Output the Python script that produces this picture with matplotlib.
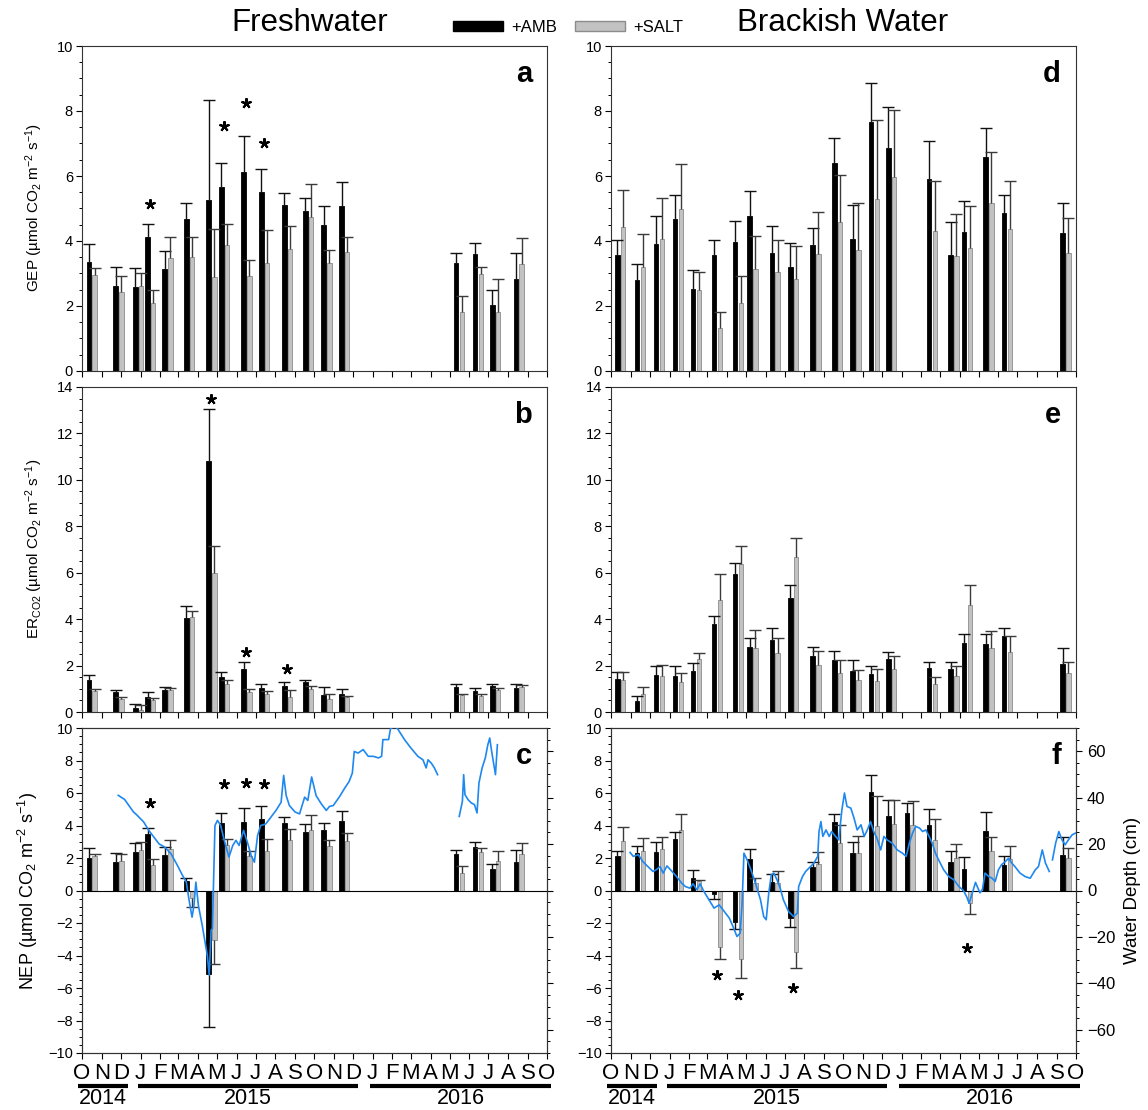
import numpy as np
import matplotlib
matplotlib.use("Agg")
import matplotlib.pyplot as plt
import matplotlib.dates as mdates
from matplotlib.ticker import MultipleLocator, FuncFormatter, NullFormatter
from matplotlib.patches import Patch

plt.rcParams['font.family'] = ['Liberation Sans', 'DejaVu Sans']
plt.rcParams['mathtext.fontset'] = 'custom'
plt.rcParams['mathtext.rm'] = 'Liberation Sans'
plt.rcParams['mathtext.it'] = 'Liberation Sans:italic'
plt.rcParams['mathtext.bf'] = 'Liberation Sans:bold'

# ---------------- data: freshwater ----------------
fresh_dates = ['2014-10-12', '2014-11-23', '2014-12-24', '2015-01-12', '2015-02-08', '2015-03-14',
               '2015-04-18', '2015-05-08', '2015-06-12', '2015-07-10', '2015-08-15', '2015-09-17',
               '2015-10-16', '2015-11-13', '2016-05-11', '2016-06-10', '2016-07-07', '2016-08-13']

fresh_gep_amb = [3.34, 2.61, 2.58, 4.13, 3.15, 4.68, 5.26, 5.66, 6.12, 5.50, 5.11, 4.93, 4.48, 5.08, 3.31, 3.59, 2.02, 2.83]
fresh_gep_amb_se = [0.56, 0.59, 0.60, 0.39, 0.55, 0.49, 3.07, 0.74, 1.12, 0.73, 0.38, 0.39, 0.60, 0.72, 0.33, 0.36, 0.46, 0.80]
fresh_gep_salt = [2.95, 2.43, 2.61, 2.08, 3.49, 3.52, 2.90, 3.89, 2.92, 3.31, 3.75, 4.73, 3.33, 3.66, 1.83, 2.99, 1.81, 3.30]
fresh_gep_salt_se = [0.23, 0.48, 0.40, 0.42, 0.64, 0.61, 1.47, 0.64, 0.49, 1.02, 0.72, 1.02, 0.38, 0.47, 0.49, 0.22, 1.03, 0.80]

fresh_er_amb = [1.37, 0.85, 0.19, 0.65, 0.94, 4.07, 10.81, 1.50, 1.84, 1.05, 1.14, 1.29, 0.75, 0.79, 1.08, 0.91, 1.11, 1.05]
fresh_er_amb_se = [0.21, 0.11, 0.14, 0.21, 0.12, 0.51, 2.25, 0.24, 0.30, 0.14, 0.15, 0.09, 0.31, 0.22, 0.14, 0.13, 0.11, 0.17]
fresh_er_salt = [0.89, 0.58, 0.10, 0.50, 0.96, 4.10, 6.00, 1.22, 0.86, 0.79, 0.65, 1.01, 0.58, 0.65, 0.75, 0.68, 0.94, 1.08]
fresh_er_salt_se = [0.09, 0.07, 0.19, 0.12, 0.09, 0.26, 1.17, 0.18, 0.15, 0.10, 0.31, 0.11, 0.21, 0.03, 0.04, 0.11, 0.10, 0.10]

fresh_nep_amb = [1.98, 1.76, 2.36, 3.46, 2.21, 0.59, -5.11, 4.17, 4.23, 4.42, 4.18, 3.60, 3.70, 4.29, 2.23, 2.68, 1.35, 1.76]
fresh_nep_amb_se = [0.62, 0.57, 0.59, 0.39, 0.47, 0.19, 3.27, 0.62, 0.86, 0.75, 0.37, 0.48, 0.48, 0.58, 0.26, 0.31, 0.29, 0.73]
fresh_nep_salt = [2.13, 1.82, 2.51, 1.60, 2.55, -0.49, -3.07, 2.78, 2.15, 2.41, 3.10, 3.74, 2.75, 3.07, 1.10, 2.35, 1.84, 2.25]
fresh_nep_salt_se = [0.10, 0.45, 0.47, 0.36, 0.56, 0.50, 1.45, 0.39, 0.27, 0.78, 0.71, 0.93, 0.38, 0.45, 0.43, 0.25, 0.61, 0.69]

fresh_gep_stars = {3: 5.13, 7: 7.55, 8: 8.25, 9: 7.02}
fresh_er_stars = {6: 13.5, 8: 2.59, 10: 1.87}
fresh_nep_stars = {3: 5.4, 7: 6.58, 8: 6.6, 9: 6.54}

fresh_depth_dates = ['2014-11-27', '2014-12-07', '2014-12-21', '2014-12-26', '2015-01-06', '2015-01-14',
                     '2015-01-22', '2015-01-30', '2015-02-08', '2015-02-18', '2015-02-28', '2015-03-08',
                     '2015-03-14', '2015-03-18', '2015-03-23', '2015-03-26', '2015-03-29', '2015-04-02',
                     '2015-04-08', '2015-04-16', '2015-04-19', '2015-04-22', '2015-04-24', '2015-04-28',
                     '2015-05-02', '2015-05-07', '2015-05-12', '2015-05-20', '2015-05-26', '2015-05-31',
                     '2015-06-05', '2015-06-12', '2015-06-18', '2015-06-24', '2015-06-29', '2015-07-04',
                     '2015-07-09', '2015-07-17', '2015-07-25', '2015-08-02', '2015-08-10', '2015-08-14',
                     '2015-08-18', '2015-08-23', '2015-09-01', '2015-09-08', '2015-09-16', '2015-09-21',
                     '2015-09-27', '2015-10-04', '2015-10-12', '2015-10-20', '2015-10-25', '2015-10-31',
                     '2015-11-10', '2015-11-18', '2015-11-25', '2015-11-30', '2015-12-03', '2015-12-09',
                     '2015-12-17', '2015-12-25', '2016-01-02', '2016-01-10', '2016-01-15', '2016-01-17',
                     '2016-01-26', '2016-01-29', '2016-02-05', '2016-02-10', '2016-02-20', '2016-03-01',
                     '2016-03-12', '2016-03-20', '2016-03-25', '2016-03-28', '2016-04-02', '2016-04-07',
                     '2016-04-12', '2016-04-30', '2016-05-16', '2016-05-21', '2016-05-23', '2016-05-25',
                     '2016-05-30', '2016-06-04', '2016-06-09', '2016-06-13', '2016-06-16', '2016-06-21',
                     '2016-06-26', '2016-06-30', '2016-07-03', '2016-07-06', '2016-07-12', '2016-07-15']
fresh_depth_cm = [41.0, 39.2, 33.8, 32.6, 29.5, 25.9,
                  23.0, 20.1, 18.7, 15.8, 10.8, 6.5,
                  3.6, -3.6, -11.5, -6.5, 3.6, -6.5,
                  -15.0, -28.0, -36.4, -17.0, -16.5, 28.0,
                  30.2, 28.0, 22.3, 14.4, 19.4, 21.6,
                  19.4, 25.9, 20.8, 15.0, 12.2, 23.7,
                  28.0, 28.7, 31.6, 34.5, 38.0, 49.6,
                  40.9, 36.6, 33.8, 33.0, 40.2, 38.8,
                  48.9, 40.9, 37.4, 34.5, 36.2, 36.6,
                  40.5, 44.1, 47.0, 50.6, 59.9, 59.2,
                  60.7, 57.8, 57.8, 57.1, 57.8, 65.0,
                  65.0, 69.7, 71.0, 69.3, 65.0, 61.4,
                  57.8, 56.3, 52.8, 56.3, 54.9, 52.8,
                  49.9, np.nan, 31.9, 38.4, 49.9, 41.3,
                  39.1, 37.7, 37.0, 33.4, 46.3, 52.8,
                  57.1, 62.8, 65.7, 59.9, 49.9, 62.8]

# ---------------- data: brackish water ----------------
brack_dates = ['2014-10-11', '2014-11-11', '2014-12-11', '2015-01-10', '2015-02-07', '2015-03-12',
               '2015-04-14', '2015-05-07', '2015-06-11', '2015-07-10', '2015-08-14', '2015-09-17',
               '2015-10-16', '2015-11-14', '2015-12-11', '2016-01-09', '2016-02-13', '2016-03-18',
               '2016-04-08', '2016-05-12', '2016-06-10', '2016-09-10']

nan = np.nan
brack_gep_amb = [3.56, 2.79, 3.92, 4.69, 2.53, 3.57, 3.96, 4.76, 3.64, 3.20, 3.88, 6.39, 4.05, 7.66, 6.87, nan, 5.90, 3.58, 4.28, 6.57, 4.87, 4.25]
brack_gep_amb_se = [0.48, 0.49, 0.85, 0.72, 0.59, 0.47, 0.67, 0.78, 0.82, 0.73, 0.51, 0.79, 1.07, 1.19, 1.26, nan, 1.18, 0.99, 0.96, 0.92, 0.55, 0.93]
brack_gep_salt = [4.44, 3.19, 4.05, 4.98, 2.48, 1.32, 2.09, 3.13, 3.06, 2.82, 3.59, 4.57, 3.71, 5.28, 5.97, nan, 4.30, 3.54, 3.79, 5.18, 4.36, 3.64]
brack_gep_salt_se = [1.12, 1.02, 1.27, 1.39, 0.58, 0.51, 0.82, 1.03, 0.97, 1.03, 1.31, 1.46, 1.45, 2.44, 2.06, nan, 1.56, 1.29, 1.28, 1.57, 1.50, 1.08]

brack_er_amb = [1.44, 0.47, 1.58, 1.55, 1.77, 3.78, 5.94, 2.82, 3.12, 4.92, 2.43, 2.22, 1.77, 1.63, 2.29, nan, 1.88, 1.84, 2.98, 2.95, 3.28, 2.07]
brack_er_amb_se = [0.29, 0.22, 0.39, 0.42, 0.36, 0.35, 0.46, 0.35, 0.52, 0.55, 0.38, 0.40, 0.49, 0.34, 0.30, nan, 0.26, 0.30, 0.36, 0.39, 0.35, 0.69]
brack_er_salt = [1.40, 0.76, 1.54, 1.28, 2.30, 4.82, 6.37, 2.75, 2.56, 6.66, 2.01, 1.67, 1.37, 1.34, 1.86, nan, 1.19, 1.57, 4.59, 2.75, 2.59, 1.67]
brack_er_salt_se = [0.33, 0.33, 0.49, 0.40, 0.26, 1.11, 0.77, 0.80, 0.61, 0.85, 0.61, 0.55, 0.46, 0.53, 0.57, nan, 0.32, 0.43, 0.86, 0.73, 0.70, 0.49]

brack_nep_amb = [2.13, 2.33, 2.35, 3.15, 0.74, -0.20, -1.96, 1.92, 0.55, -1.70, 1.43, 4.21, 2.29, 6.05, 4.58, 4.79, 4.03, 1.78, 1.31, 3.64, 1.57, 2.17]
brack_nep_amb_se = [0.32, 0.43, 0.62, 0.43, 0.53, 0.33, 0.41, 0.66, 0.45, 0.55, 0.35, 0.49, 0.71, 1.03, 0.98, 0.61, 0.98, 0.67, 0.73, 1.21, 0.56, 1.14]
brack_nep_salt = [3.07, 2.45, 2.54, 3.72, 0.57, -3.48, -4.21, 0.45, 0.49, -3.78, 1.64, 2.94, 2.29, 3.97, 4.11, 4.01, 3.11, 2.00, -0.78, 2.43, 1.92, 2.00]
brack_nep_salt_se = [0.82, 0.76, 0.77, 0.98, 0.05, 0.73, 1.19, 0.31, 0.68, 0.96, 0.71, 1.09, 1.06, 1.84, 1.49, 1.47, 1.27, 0.84, 0.65, 0.88, 0.82, 0.64]

brack_gep_stars = {}
brack_er_stars = {}
brack_nep_stars = {5: -5.17, 6: -6.4, 9: -6.0, 18: -3.54}

brack_depth_dates = ['2014-10-31', '2014-11-05', '2014-11-13', '2014-11-20', '2014-11-28', '2014-12-06',
                     '2014-12-11', '2014-12-17', '2014-12-22', '2014-12-28', '2015-01-05', '2015-01-12',
                     '2015-01-20', '2015-01-26', '2015-02-02', '2015-02-07', '2015-02-13', '2015-02-18',
                     '2015-02-24', '2015-03-04', '2015-03-12', '2015-03-20', '2015-03-28', '2015-04-05',
                     '2015-04-10', '2015-04-17', '2015-04-22', '2015-04-25', '2015-04-28', '2015-05-03',
                     '2015-05-09', '2015-05-16', '2015-05-24', '2015-05-29', '2015-06-02', '2015-06-06',
                     '2015-06-10', '2015-06-14', '2015-06-19', '2015-06-24', '2015-06-29', '2015-07-07',
                     '2015-07-15', '2015-07-21', '2015-07-23', '2015-07-29', '2015-08-03', '2015-08-08',
                     '2015-08-16', '2015-08-22', '2015-08-24', '2015-08-27', '2015-08-30', '2015-09-04',
                     '2015-09-09', '2015-09-13', '2015-09-19', '2015-09-24', '2015-09-29', '2015-10-03',
                     '2015-10-07', '2015-10-13', '2015-10-18', '2015-10-23', '2015-10-29', '2015-11-03',
                     '2015-11-08', '2015-11-13', '2015-11-18', '2015-11-23', '2015-11-29', '2015-12-04',
                     '2015-12-09', '2015-12-17', '2015-12-25', '2016-01-02', '2016-01-08', '2016-01-13',
                     '2016-01-18', '2016-01-23', '2016-01-29', '2016-02-03', '2016-02-08', '2016-02-13',
                     '2016-02-18', '2016-02-23', '2016-02-28', '2016-03-07', '2016-03-15', '2016-03-23',
                     '2016-03-31', '2016-04-07', '2016-04-12', '2016-04-16', '2016-04-21', '2016-04-26',
                     '2016-05-03', '2016-05-07', '2016-05-11', '2016-05-17', '2016-05-22', '2016-05-27',
                     '2016-06-01', '2016-06-06', '2016-06-12', '2016-06-17', '2016-06-22', '2016-06-27',
                     '2016-07-05', '2016-07-13', '2016-07-21', '2016-07-29', '2016-08-03', '2016-08-09',
                     '2016-08-14', '2016-08-20', '2016-08-22', '2016-08-25', '2016-08-30', '2016-09-04',
                     '2016-09-09', '2016-09-14', '2016-09-19', '2016-09-25', '2016-09-30']
brack_depth_cm = [16.4, 14.7, 15.4, 12.5, 10.3, 8.2,
                  8.9, 10.3, 7.5, 10.6, 8.2, 6.0,
                  3.2, 1.7, 1.0, 2.9, 0.3, 2.9,
                  -0.4, -4.0, -7.6, -6.2, -9.0, -11.9,
                  -15.0, -19.8, -18.4, -6.0, 16.1, 13.2,
                  8.9, 3.2, -4.0, -11.2, -12.6, -1.1,
                  6.8, 7.5, 4.6, 1.0, -4.0, -9.0,
                  -11.2, -9.8, 1.7, 6.0, 8.2, 9.6,
                  11.8, 14.7, 25.4, 29.7, 23.3, 26.1,
                  23.3, 25.4, 23.3, 21.8, 34.8, 42.0,
                  36.2, 35.5, 31.2, 26.1, 28.3, 23.3,
                  26.1, 29.7, 25.4, 22.6, 17.5, 23.3,
                  21.8, 20.4, 17.5, 16.1, 14.7, 20.4,
                  24.7, 27.6, 26.9, 25.4, 26.1, 23.3,
                  20.4, 16.1, 13.2, 8.9, 6.0, 4.6,
                  1.7, 0.0, -2.6, -5.5, -1.1, 3.5,
                  -1.0, 0.5, 7.5, 6.0, 5.3, 3.9,
                  8.9, 11.1, 12.5, 13.9, 11.8, 10.3,
                  7.5, 6.0, 5.3, 8.9, 10.3, 17.5,
                  11.8, 8.2, nan, 13.2, 20.4, 25.4,
                  21.8, 19.7, 21.8, 24.0, 24.7]

# ---------------- styling ----------------
AMB_COLOR = 'black'
SALT_COLOR = '#C2C2C2'
SALT_EDGE = '#8C8C8C'
LINE_COLOR = '#1E88F0'
BAR_W = 7.0
SALT_OFFSET = 9.0

fig = plt.figure(figsize=(11.48, 11.10), dpi=100)
FW, FH = 1148.0, 1110.0
col_left = [82 / FW, 611 / FW]
width = 465 / FW
height = 325 / FH
row_bottom = [1 - 371 / FH, 1 - 712 / FH, 1 - 1053 / FH]

x_start = mdates.datestr2num('2014-10-01')
x_end = mdates.datestr2num('2016-10-01')


def draw_bars(ax, dates, amb, amb_se, salt, salt_se, stars):
    x = mdates.datestr2num(dates)
    series = [(x, amb, amb_se, AMB_COLOR, AMB_COLOR, '#111111'),
              (x + SALT_OFFSET, salt, salt_se, SALT_COLOR, SALT_EDGE, '#3a3a3a')]
    for xs, vals, errs, fc, ec, elc in series:
        vals = np.asarray(vals, float)
        errs = np.asarray(errs, float)
        m = np.isfinite(vals)
        xs, vals, errs = xs[m], vals[m], errs[m]
        ax.bar(xs, vals, width=BAR_W, color=fc, edgecolor=ec, linewidth=0.6, zorder=2)
        ends = vals + np.sign(vals) * errs
        ax.vlines(xs, vals, ends, color=elc, linewidth=1.0, zorder=3)
        ax.plot(xs, ends, ls='none', marker='_', ms=9, mew=1.0, color=elc, zorder=3)
    for i, yv in stars.items():
        ax.plot(x[i] + SALT_OFFSET / 2, yv, ls='none', marker=(5, 2, 0), ms=7.5,
                mew=1.5, color='black', zorder=4)


def style_axis(ax, ylim, major, bottom_row):
    ax.set_xlim(x_start, x_end)
    ax.set_ylim(*ylim)
    ax.yaxis.set_major_locator(MultipleLocator(major))
    ax.yaxis.set_minor_locator(MultipleLocator(0.5))
    ax.xaxis.set_major_locator(mdates.MonthLocator())
    if bottom_row:
        ax.xaxis.set_major_formatter(FuncFormatter(
            lambda v, pos: mdates.num2date(v).strftime('%b')[0]))
    else:
        ax.xaxis.set_major_formatter(NullFormatter())
    ax.tick_params(axis='both', which='major', direction='out', length=4.5, width=0.8)
    ax.tick_params(axis='y', which='minor', direction='out', length=2.5, width=0.7)
    ax.tick_params(axis='y', labelsize=10.5, pad=2)
    ax.tick_params(axis='x', labelsize=16, pad=3)
    for s in ax.spines.values():
        s.set_linewidth(0.8)
        s.set_color('#333333')


panels = [
    # (col, row, dates, amb, amb_se, salt, salt_se, stars, ylim, letter)
    (0, 0, fresh_dates, fresh_gep_amb, fresh_gep_amb_se, fresh_gep_salt, fresh_gep_salt_se, fresh_gep_stars, (0, 10), 'a'),
    (0, 1, fresh_dates, fresh_er_amb, fresh_er_amb_se, fresh_er_salt, fresh_er_salt_se, fresh_er_stars, (0, 14), 'b'),
    (0, 2, fresh_dates, fresh_nep_amb, fresh_nep_amb_se, fresh_nep_salt, fresh_nep_salt_se, fresh_nep_stars, (-10, 10), 'c'),
    (1, 0, brack_dates, brack_gep_amb, brack_gep_amb_se, brack_gep_salt, brack_gep_salt_se, brack_gep_stars, (0, 10), 'd'),
    (1, 1, brack_dates, brack_er_amb, brack_er_amb_se, brack_er_salt, brack_er_salt_se, brack_er_stars, (0, 14), 'e'),
    (1, 2, brack_dates, brack_nep_amb, brack_nep_amb_se, brack_nep_salt, brack_nep_salt_se, brack_nep_stars, (-10, 10), 'f'),
]

depth = {0: (fresh_depth_dates, fresh_depth_cm), 1: (brack_depth_dates, brack_depth_cm)}

years = [('2014', '2014-09-25', '2014-12-12'),
         ('2015', '2014-12-28', '2015-12-09'),
         ('2016', '2015-12-27', '2016-10-08')]

for col, row, dates, amb, amb_se, salt, salt_se, stars, ylim, letter in panels:
    ax = fig.add_axes([col_left[col], row_bottom[row], width, height])
    bottom = row == 2
    if bottom:
        ax.axhline(0, color='black', linewidth=0.8, zorder=2.5)
    draw_bars(ax, dates, amb, amb_se, salt, salt_se, stars)
    style_axis(ax, ylim, 2, bottom)
    ax.text(0.968, 0.89, letter, transform=ax.transAxes, ha='right', va='baseline',
            fontsize=21, fontweight='bold')
    if bottom:
        ax2 = ax.twinx()
        dd, cm = depth[col]
        ax2.plot(mdates.datestr2num(dd), cm, color=LINE_COLOR, linewidth=1.2, zorder=5)
        ax2.set_ylim(-70, 70)
        ax2.set_xlim(x_start, x_end)
        ax2.yaxis.set_major_locator(MultipleLocator(20))
        ax2.yaxis.set_minor_locator(MultipleLocator(5))
        ax2.tick_params(axis='y', which='major', direction='out', length=4.5, width=0.8, labelsize=12)
        ax2.tick_params(axis='y', which='minor', direction='out', length=2.5, width=0.7)
        for s in ax2.spines.values():
            s.set_linewidth(0.8)
            s.set_color('#333333')
        if col == 0:
            ax2.tick_params(axis='y', labelright=False)
        else:
            ax2.set_ylabel('Water Depth (cm)', fontsize=13.5, labelpad=6)
        trans = ax.get_xaxis_transform()
        for label, d0, d1 in years:
            x0, x1 = mdates.datestr2num([d0, d1])
            ax.plot([x0, x1], [-0.102, -0.102], transform=trans, color='black',
                    linewidth=3, clip_on=False, solid_capstyle='butt')
            ax.text((x0 + x1) / 2, -0.14, label, transform=trans, ha='center', va='center',
                    fontsize=15.5)

# y-axis labels
unit = ' (µmol CO$_2$ m$^{-2}$ s$^{-1}$)'
fig.text(34 / FW, 1 - 208 / FH, 'GEP' + unit, rotation=90, ha='center', va='center', fontsize=11)
fig.text(34 / FW, 1 - 549 / FH, 'ER$_\\mathrm{CO2}$' + unit, rotation=90, ha='center', va='center', fontsize=11)
fig.text(28 / FW, 1 - 891 / FH, 'NEP' + unit, rotation=90, ha='center', va='center', fontsize=13)

# titles
fig.text(310 / FW, 1 - 31 / FH, 'Freshwater', ha='center', va='baseline', fontsize=22.5)
fig.text(843 / FW, 1 - 31 / FH, 'Brackish Water', ha='center', va='baseline', fontsize=22.5)

# legend
handles = [Patch(facecolor=AMB_COLOR, edgecolor=AMB_COLOR),
           Patch(facecolor=SALT_COLOR, edgecolor=SALT_EDGE)]
fig.legend(handles, ['+AMB', '+SALT'], loc='center', bbox_to_anchor=(568 / FW, 1 - 27 / FH),
           ncol=2, frameon=False, fontsize=12, handlelength=3.0, handleheight=0.55,
           handletextpad=0.5, columnspacing=1.1)

fig.savefig('out.png', dpi=100)
